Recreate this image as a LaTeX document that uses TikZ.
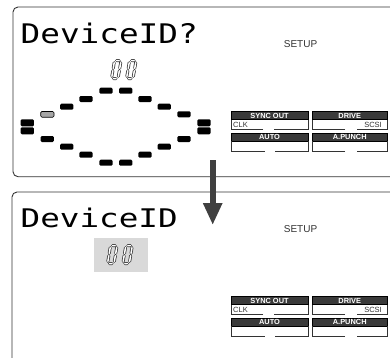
\documentclass[tikz,border=0pt]{standalone}
\usepackage{fontspec}
\setmainfont{Liberation Sans}
\newfontfamily\lcdfont{DejaVu Sans Mono}
\usetikzlibrary{arrows.meta}
\definecolor{LcdInk}{HTML}{333333}
\definecolor{LcdKey}{HTML}{3A3A3A}
\definecolor{LcdShade}{HTML}{D9D9D9}
\definecolor{LcdDim}{HTML}{A6A6A6}
\definecolor{LcdArrow}{HTML}{404040}

\tikzset{
  panel/.style={draw=LcdInk,line width=0.9pt,rounded corners=5pt},
  segblk/.style={fill=black,rounded corners=1.2pt},
  digout/.style={line width=3pt,line cap=round,draw=LcdInk},
  digin/.style={line width=1.5pt,line cap=round,draw=white},
  keyhead/.style={fill=LcdKey,draw=black,line width=0.6pt},
  keyline/.style={draw=LcdInk,line width=0.9pt},
  keyname/.style={text=white,font=\bfseries\fontsize{7.4}{7.4}\selectfont,inner sep=0pt},
  keyval/.style={text=LcdInk,font=\fontsize{7.5}{7.5}\selectfont,inner sep=0pt},
  lcdtext/.style={anchor=base west,inner sep=0pt,font=\lcdfont},
}

\newcommand{\lcdzero}[2]{%
  \begin{scope}[shift={(#1,#2)},xslant=0.17]
    \foreach \sty in {digout,digin}
      \draw[\sty] (2,-18)--(4.5,-18) (2,0)--(4.5,0)
        (0,-15.8)--(0,-10.2) (0,-7.8)--(0,-2.2)
        (6.5,-15.8)--(6.5,-10.2) (6.5,-7.8)--(6.5,-2.2);
  \end{scope}}

\begin{document}
\begin{tikzpicture}[x=1pt,y=-1pt]
  \useasboundingbox (0,0) rectangle (390,357);
  \fill[white] (0,0) rectangle (390,357);

  \draw[panel] (400,7) -- (13,7) -- (13,176.7) -- (400,176.7);
  \draw[panel] (400,192) -- (12,192) -- (12,370);

  \foreach \dy/\tag in {0/a,185/b} {
    \begin{scope}[shift={(0,\dy)}]
      \node[anchor=base,inner sep=0pt,text=LcdInk,font=\fontsize{10}{10}\selectfont] (setup\tag) at (300.5,47.5) {SETUP};
      \foreach \xa/\xb/\ya/\ga/\gb/\nm [count=\k] in
          {231/308/111.7/263/274/SYNC OUT, 312.5/387/111.7/345/357/DRIVE,
           231/308/133.3/264.5/275/AUTO, 312.5/387/133.3/345/357/A.PUNCH} {
        \path[keyhead] (\xa,\ya) rectangle (\xb,\ya+7.8);
        \draw[keyline] (\ga,\ya+18) -- (\xa,\ya+18) -- (\xa,\ya+7.8)
                       (\xb,\ya+7.8) -- (\xb,\ya+18) -- (\gb,\ya+18);
        \node[keyname] (key\tag\k) at ({(\xa+\xb)/2},\ya+4) {\nm};
      }
      \node[keyval,anchor=west] (clk\tag) at (233,124.6) {CLK};
      \node[keyval,anchor=east] (scsi\tag) at (382,124.6) {SCSI};
    \end{scope}
  }

  \node[lcdtext] (ask) at (20.5,43) {\resizebox{177pt}{20.5pt}{DeviceID?}};
  \node[lcdtext] (set) at (20.5,227) {\resizebox{157pt}{19.5pt}{DeviceID}};

  \lcdzero{111.5}{78.5}
  \lcdzero{126.5}{78.5}

  \foreach \x/\y in {106/90.7,125.7/90.7,86/99,145/99,66.7/106.7,164.3/106.7,
      184/114.3,47.3/139,184/139,66.7/146.7,164.3/146.7,86/154.7,145/154.7,
      106/162.7,125.7/162.7}
    \path[segblk] (\x-6.6,\y-3) rectangle (\x+6.6,\y+3);
  \foreach \x in {27.3,204} {
    \path[segblk] (\x-6.6,119.3) rectangle (\x+6.6,126.3);
    \path[segblk] (\x-6.6,127.3) rectangle (\x+6.6,134.3);
  }
  \path[segblk,fill=LcdDim,draw=black,line width=0.6pt] (40.7,111.5) rectangle (54,117.2);

  \fill[LcdShade] (94,238) rectangle (148,271.7);
  \lcdzero{107.5}{263.5}
  \lcdzero{122.8}{263.5}

  \coordinate (arrtop) at (212.7,160);
  \coordinate (arrtip) at (212.7,225);
  \draw[LcdArrow,line width=6pt,-{Triangle[width=18pt,length=22pt]}] (arrtop) -- (arrtip);
\end{tikzpicture}
\end{document}
